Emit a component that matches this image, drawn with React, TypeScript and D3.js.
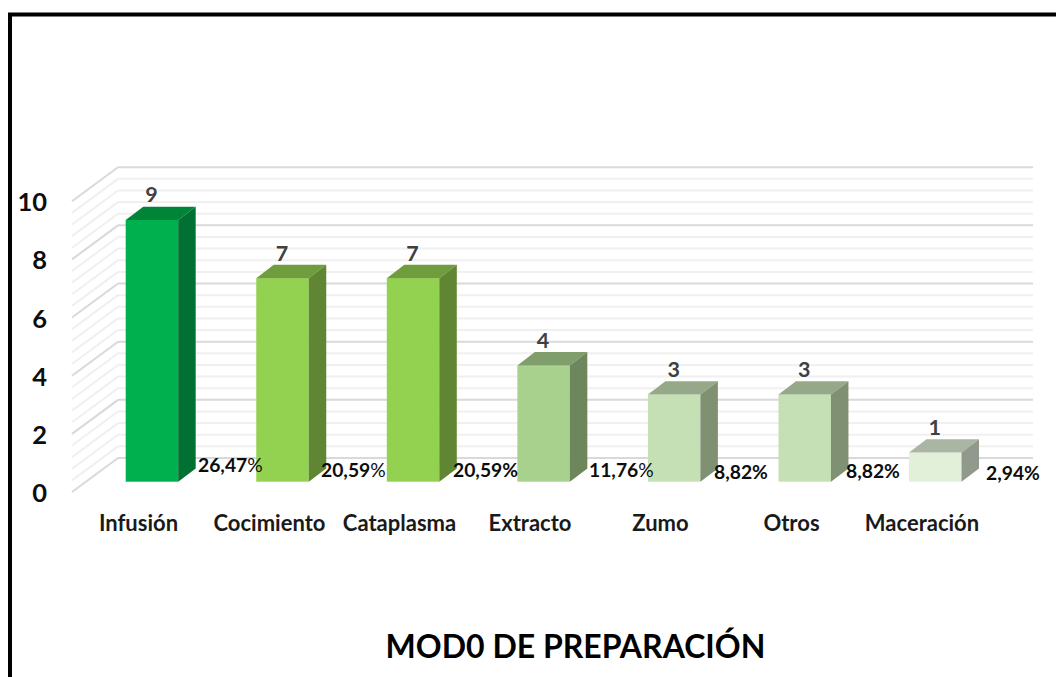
import React from "react";
import * as d3 from "d3";

const categories = ["Infusión", "Cocimiento", "Cataplasma", "Extracto", "Zumo", "Otros", "Maceración"];
const counts = [9, 7, 7, 4, 3, 3, 1];
const percentValues = ["26,47", "20,59", "20,59", "11,76", "8,82", "8,82", "2,94"];
const percentSignWeights = [400, 400, 700, 400, 700, 700, 700];
const frontColors = ["#00b04f", "#92d250", "#92d250", "#a9d18e", "#c5e0b4", "#c5e0b4", "#e2f0d9"];
const topColors = ["#008538", "#6f9d3d", "#6f9d3d", "#7f9e6b", "#95a988", "#95a988", "#aab5a3"];
const sideColors = ["#007132", "#608533", "#608533", "#6d865b", "#7f9073", "#7f9073", "#91998c"];
const yTicks = [0, 2, 4, 6, 8, 10];
const minorTicks = d3.range(0, 10.01, 0.4);
const pctX = [198, 321, 453, 589, 714, 846, 986];
const pctY = [472, 477, 477, 477, 479, 478, 480];
const labelX = [138.5, 269.5, 399.5, 530, 660.5, 791.5, 922];

const FONT = "Lato, Carlito, 'Open Sans', sans-serif";
const W = 1056;
const H = 677;
const DX = 17.5;
const DY = 13.3;
const BACK_DX = 46;
const BACK_DY = 34;

export default function App() {
  const yFront = d3.scaleLinear().domain([0, 10]).range([481.7, 190.9]);
  const yWall = (v: number) => yFront(v) - 23.7;
  const x = d3.scaleBand<string>().domain(categories).range([125.7, 961.5]).paddingInner(0.598).paddingOuter(0);
  const bw = x.bandwidth();

  return (
    <svg width={W} height={H} style={{ position: "absolute", left: 0, top: 0, background: "#fff" }} fontFamily={FONT}>
      <path d={`M10 ${H}V14.5H${W}`} fill="none" stroke="#000" strokeWidth={4} />

      {minorTicks.map((v, i) => {
        const major = i % 5 === 0;
        const y = yWall(v);
        return (
          <g key={i} stroke={major ? "#d9d9d9" : "#f0f0f0"} strokeWidth={2} fill="none">
            <line x1={118} x2={1033} y1={y} y2={y} />
            <line x1={118} x2={118 - BACK_DX} y1={y} y2={y + BACK_DY} />
          </g>
        );
      })}

      {yTicks.map((t) => (
        <text key={t} x={47} y={yWall(t) + BACK_DY + 10} textAnchor="end" fontSize={25.5} fontWeight={700} fill="#0d0d0d">
          {t}
        </text>
      ))}

      {categories.map((c, i) => {
        const x0 = x(c)!;
        const yt = yFront(counts[i]);
        const yb = yFront(0);
        return (
          <g key={c}>
            <rect x={x0} y={yt} width={bw} height={yb - yt} fill={frontColors[i]} />
            <path d={`M${x0} ${yt}l${DX} ${-DY}h${bw}l${-DX} ${DY}Z`} fill={topColors[i]} />
            <path d={`M${x0 + bw} ${yt}l${DX} ${-DY}V${yb - DY}l${-DX} ${DY}Z`} fill={sideColors[i]} />
            <text x={x0 + bw / 2 - 0.5} y={yt - 17.5} textAnchor="middle" fontSize={21.5} fontWeight={700} fill="#404040">
              {counts[i]}
            </text>
            <text x={labelX[i]} y={531} textAnchor="middle" fontSize={22} fontWeight={700} fill="#1a1a1a">
              {c}
            </text>
          </g>
        );
      })}

      {categories.map((c, i) => (
        <text key={c} x={pctX[i]} y={pctY[i]} fontSize={19.3} fontWeight={700} fill="#0d0d0d">
          {percentValues[i]}
          <tspan fontWeight={percentSignWeights[i]}>%</tspan>
        </text>
      ))}

      <text x={575.5} y={658} textAnchor="middle" fontSize={32} fontWeight={700} fill="#000">
        MOD0 DE PREPARACIÓN
      </text>
    </svg>
  );
}
